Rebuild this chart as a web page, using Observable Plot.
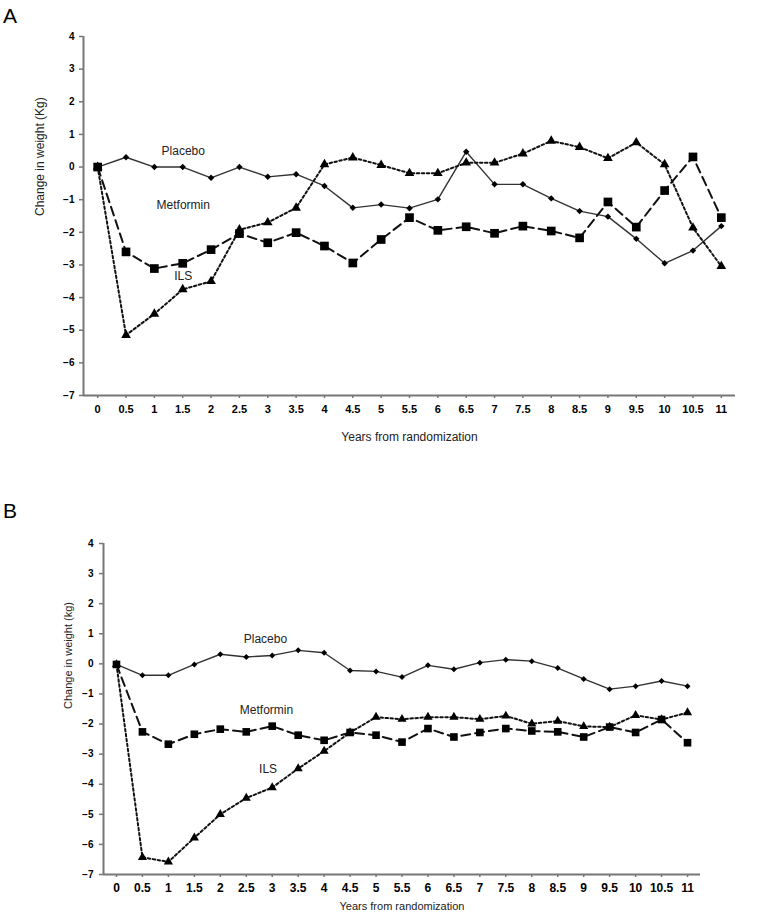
<!DOCTYPE html>
<html>
<head>
<meta charset="utf-8">
<script src="https://cdn.jsdelivr.net/npm/d3@7"></script>
<script src="https://cdn.jsdelivr.net/npm/@observablehq/plot@0.6"></script>
<style>
  html, body { margin: 0; padding: 0; background: #fff; }
  #page { position: relative; width: 762px; height: 916px; overflow: hidden; font-family: "Liberation Sans", Arial, sans-serif; }
  .panel { position: absolute; left: 0; z-index: 1; }
  .tag { position: absolute; left: 3px; font-size: 21px; color: #000; line-height: 1; z-index: 2; }
</style>
</head>
<body>
<div id="page">
  <div id="panelA" class="panel" style="top:0px"></div>
  <div id="panelB" class="panel" style="top:490px"></div>
  <div class="tag" style="top:5px">A</div>
  <div class="tag" style="top:500px">B</div>
</div>
<script>
// ---- data ----
const years = [0, 0.5, 1, 1.5, 2, 2.5, 3, 3.5, 4, 4.5, 5, 5.5, 6, 6.5, 7, 7.5, 8, 8.5, 9, 9.5, 10, 10.5, 11];
const yTicks = [-7, -6, -5, -4, -3, -2, -1, 0, 1, 2, 3, 4];

const placeboA   = [0, 0.3, 0, 0, -0.33, 0, -0.3, -0.22, -0.58, -1.25, -1.15, -1.26, -0.99, 0.47, -0.53, -0.53, -0.96, -1.35, -1.52, -2.2, -2.95, -2.56, -1.81];
const metforminA = [0, -2.6, -3.11, -2.95, -2.53, -2.04, -2.32, -2.01, -2.42, -2.94, -2.22, -1.55, -1.94, -1.83, -2.03, -1.81, -1.96, -2.17, -1.07, -1.84, -0.72, 0.31, -1.55];
const ilsA       = [0, -5.15, -4.5, -3.75, -3.5, -1.92, -1.7, -1.25, 0.08, 0.29, 0.06, -0.19, -0.19, 0.13, 0.13, 0.41, 0.8, 0.61, 0.27, 0.75, 0.08, -1.86, -3.04];

const placeboB   = [-0.02, -0.38, -0.38, -0.02, 0.32, 0.23, 0.28, 0.45, 0.37, -0.22, -0.25, -0.44, -0.05, -0.18, 0.04, 0.14, 0.09, -0.14, -0.5, -0.84, -0.74, -0.57, -0.74];
const metforminB = [-0.02, -2.26, -2.67, -2.34, -2.17, -2.26, -2.07, -2.37, -2.54, -2.28, -2.37, -2.6, -2.15, -2.43, -2.28, -2.15, -2.23, -2.26, -2.43, -2.1, -2.28, -1.85, -2.62];
const ilsB       = [-0.02, -6.43, -6.58, -5.78, -5.0, -4.46, -4.11, -3.48, -2.9, -2.28, -1.77, -1.84, -1.77, -1.77, -1.84, -1.73, -1.99, -1.9, -2.08, -2.1, -1.71, -1.85, -1.62];

const labelsA = [
  {name: "Placebo", x: 1.51, y: 0.49},
  {name: "Metformin", x: 1.51, y: -1.17},
  {name: "ILS", x: 1.51, y: -3.34}
];
const labelsB = [
  {name: "Placebo", x: 2.87, y: 0.81},
  {name: "Metformin", x: 2.89, y: -1.54},
  {name: "ILS", x: 2.92, y: -3.5}
];

const toRows = arr => years.map((x, i) => ({x, y: arr[i]}));

function panel(opts) {
  const {placebo, metformin, ils, labels, yTitle, m, sym, xFont, titleDy, yTitleDx, xPad, yPad, titleSize} = opts;
  const P = toRows(placebo), M = toRows(metformin), I = toRows(ils);
  const font = "Liberation Sans, Arial, sans-serif";
  return Plot.plot({
    width: 762,
    height: m.height,
    marginLeft: m.left, marginRight: m.right, marginTop: m.top, marginBottom: m.bottom,
    style: {fontFamily: font, background: "transparent", color: "#000"},
    x: {domain: [-0.25, 11.25], axis: null},
    y: {domain: [-7, 4], axis: null},
    marks: [
      Plot.ruleY([-7], {stroke: "#777", strokeWidth: 2}),
      Plot.ruleX([-0.25], {stroke: "#777", strokeWidth: 2}),
      Plot.axisX({ticks: years, tickFormat: d => String(d), tickSize: 3, tickPadding: xPad, stroke: "#777", strokeWidth: 1.5, fontSize: xFont, fontWeight: "bold", fill: "#000", label: null}),
      Plot.axisY({ticks: yTicks, tickSize: 4, tickPadding: yPad, stroke: "#777", strokeWidth: 1.5, fontSize: 10, fontWeight: "bold", fill: "#000", label: null}),
      Plot.line(P, {x: "x", y: "y", stroke: "#333", strokeWidth: 1.4}),
      Plot.line(M, {x: "x", y: "y", stroke: "#111", strokeWidth: 2, strokeDasharray: "9,5"}),
      Plot.line(I, {x: "x", y: "y", stroke: "#111", strokeWidth: 2, strokeDasharray: "2.5,2.5"}),
      Plot.dot(P, {x: "x", y: "y", symbol: "diamond2", r: sym.d, fill: "#000"}),
      Plot.dot(M, {x: "x", y: "y", symbol: "square", r: sym.s, fill: "#000"}),
      Plot.dot(I, {x: "x", y: "y", symbol: "triangle", r: sym.t, fill: "#000"}),
      Plot.text(labels, {x: "x", y: "y", text: "name", fontSize: 12, fill: "#222", fontFamily: font}),
      Plot.text(["Years from randomization"], {frameAnchor: "bottom", dy: titleDy, fontSize: titleSize, fill: "#222", letterSpacing: "0.5px"}),
      Plot.text([yTitle], {frameAnchor: "left", rotate: -90, dx: yTitleDx, fontSize: titleSize, fill: "#222", letterSpacing: "0.5px"})
    ]
  });
}

document.getElementById("panelA").appendChild(panel({
  placebo: placeboA, metformin: metforminA, ils: ilsA, labels: labelsA,
  yTitle: "Change in weight (Kg)",
  m: {height: 455, left: 83, right: 27, top: 36, bottom: 60},
  sym: {d: 2.9, s: 4.9, t: 3.6}, xFont: 11, xPad: 7, yPad: 5, titleDy: 45, yTitleDx: -43, titleSize: 12
}));

document.getElementById("panelB").appendChild(panel({
  placebo: placeboB, metformin: metforminB, ils: ilsB, labels: labelsB,
  yTitle: "Change in weight (kg)",
  m: {height: 426, left: 103, right: 62, top: 53, bottom: 42},
  sym: {d: 2.7, s: 4.3, t: 3.4}, xFont: 12, xPad: 6, yPad: 6, titleDy: 35, yTitleDx: -35, titleSize: 11
}));
</script>
</body>
</html>
